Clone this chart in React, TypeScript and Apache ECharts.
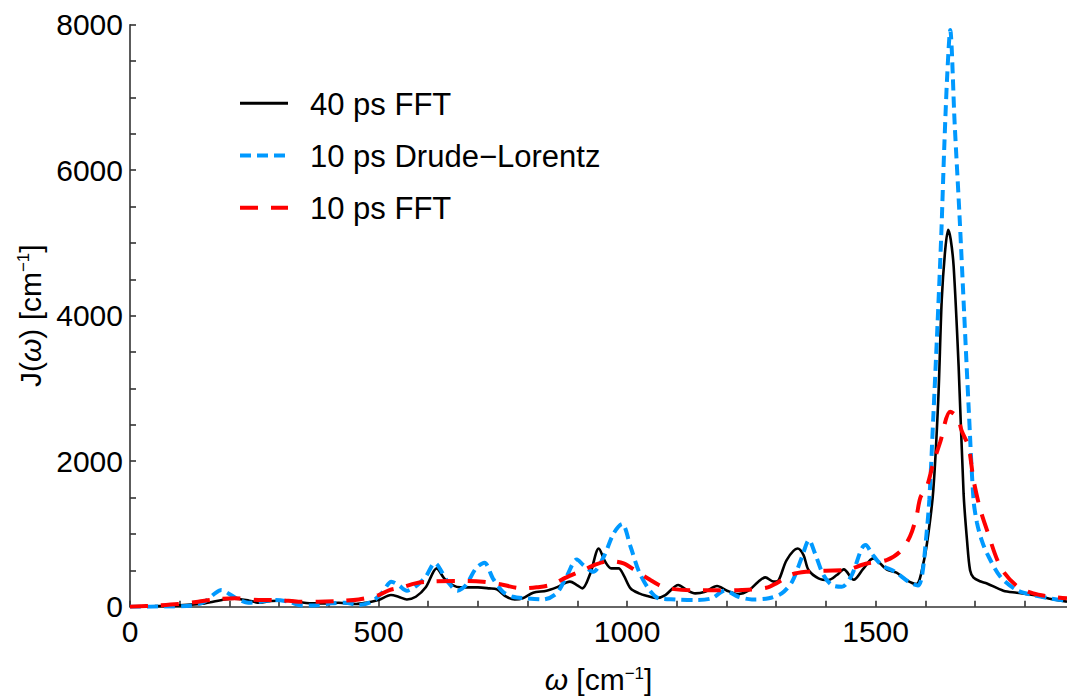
import React, { useEffect, useRef } from "react";
import * as echarts from "echarts";

const FONT = "'Liberation Sans', Arial, Helvetica, sans-serif";

const seriesNames = ["40 ps FFT", "10 ps Drude\u2212Lorentz", "10 ps FFT"];
const seriesColors = ["#000000", "#0099ff", "#ff0000"];
const seriesWidths = [2.6, 4, 4];
const seriesDashes: (number[] | null)[] = [null, [11, 6], [18, 13]];

const fft40X = [0, 50, 100, 150, 190, 210, 240, 260, 285, 315, 340, 370, 395, 420, 455, 475, 500, 525, 540, 557, 575, 595, 617, 632, 649, 665, 700, 723, 738, 757, 774, 790, 811, 838, 858, 885, 899, 910, 926, 943, 956, 968, 983, 993, 1007, 1024, 1041, 1060, 1077, 1103, 1120, 1137, 1157, 1181, 1201, 1224, 1244, 1264, 1278, 1295, 1305, 1321, 1343, 1355, 1365, 1385, 1405, 1422, 1436, 1456, 1475, 1495, 1522, 1542, 1562, 1582, 1596, 1606, 1616, 1626, 1633, 1640, 1646, 1651, 1657, 1667, 1677, 1684, 1690, 1697, 1710, 1724, 1757, 1784, 1817, 1850, 1885];
const fft40Y = [0, 8, 18, 46, 100, 110, 82, 55, 78, 85, 64, 46, 46, 55, 37, 55, 92, 160, 137, 100, 137, 266, 527, 390, 298, 266, 266, 252, 238, 137, 100, 115, 192, 220, 266, 344, 298, 252, 458, 800, 618, 527, 527, 435, 252, 183, 147, 120, 160, 298, 229, 183, 206, 284, 220, 174, 220, 344, 403, 344, 366, 641, 800, 710, 504, 390, 366, 435, 513, 370, 520, 664, 513, 467, 366, 311, 595, 1000, 1600, 2842, 4217, 4904, 5180, 5050, 4675, 3300, 1550, 900, 500, 400, 350, 320, 220, 192, 160, 110, 69];

const dlX = [0, 70, 124, 150, 171, 184, 198, 218, 238, 265, 292, 319, 346, 372, 406, 433, 460, 486, 506, 526, 540, 557, 578, 595, 613, 639, 659, 676, 696, 713, 730, 750, 770, 797, 831, 858, 878, 899, 912, 932, 953, 973, 990, 1007, 1024, 1045, 1064, 1097, 1137, 1170, 1197, 1224, 1251, 1285, 1311, 1332, 1352, 1366, 1378, 1395, 1412, 1432, 1452, 1472, 1480, 1492, 1512, 1539, 1566, 1585, 1593, 1601, 1608, 1616, 1624, 1632, 1638, 1644, 1650, 1659, 1669, 1678, 1687, 1697, 1704, 1714, 1724, 1751, 1784, 1817, 1850, 1885];
const dlY = [0, 2, 18, 69, 183, 229, 183, 100, 55, 73, 92, 69, 18, 18, 46, 55, 23, 69, 183, 343, 298, 220, 298, 412, 600, 344, 220, 298, 527, 605, 390, 206, 137, 115, 100, 183, 412, 650, 572, 481, 687, 1008, 1136, 824, 481, 229, 115, 100, 92, 115, 220, 137, 100, 115, 183, 344, 687, 916, 733, 435, 298, 275, 435, 800, 847, 733, 572, 481, 344, 290, 412, 900, 1467, 2600, 3800, 5100, 6300, 7300, 7928, 6640, 5345, 4050, 2760, 1467, 1150, 900, 733, 412, 229, 160, 115, 82];

const fft10X = [0, 57, 97, 137, 171, 211, 258, 298, 339, 379, 419, 460, 500, 522, 547, 574, 601, 655, 710, 743, 790, 818, 845, 878, 912, 939, 966, 993, 1020, 1047, 1064, 1080, 1130, 1180, 1230, 1280, 1300, 1330, 1360, 1400, 1440, 1480, 1522, 1549, 1569, 1582, 1590, 1603, 1615, 1630, 1650, 1665, 1673, 1687, 1697, 1710, 1724, 1751, 1784, 1817, 1850, 1885];
const fft10Y = [0, 18, 37, 69, 100, 115, 92, 92, 69, 69, 78, 100, 160, 229, 266, 321, 344, 353, 344, 311, 252, 266, 298, 403, 504, 586, 627, 595, 481, 366, 298, 255, 225, 225, 230, 260, 320, 440, 480, 495, 505, 590, 641, 756, 962, 1237, 1500, 1650, 1950, 2265, 2681, 2600, 2420, 2197, 1740, 1350, 1053, 550, 284, 183, 140, 115];

const xLabelStep = 500;
const yLabelStep = 2000;

const zip = (xs: number[], ys: number[]) => xs.map((x, i) => [x, ys[i]]);

export default function App() {
  const ref = useRef<HTMLDivElement>(null);
  useEffect(() => {
    if (!ref.current) return;
    const chart = echarts.init(ref.current, undefined, { renderer: "svg" });
    const axisLineStyle = { color: "#333", width: 1.6 };
    const rich = {
      n: { fontSize: 30, fontFamily: FONT, color: "#000" },
      i: { fontSize: 30, fontFamily: FONT, color: "#000", fontStyle: "italic" },
      s: { fontSize: 17, fontFamily: FONT, color: "#000", verticalAlign: "top" },
    };
    const legendTop = 103.3;
    const legendStep = 52.2;
    const legendGraphics: any[] = [];
    seriesNames.forEach((name, k) => {
      const y = legendTop + k * legendStep;
      legendGraphics.push({
        type: "line",
        shape: { x1: 240, y1: y, x2: 288, y2: y },
        style: {
          stroke: seriesColors[k],
          lineWidth: seriesWidths[k] + (k === 0 ? 0.4 : 0),
          lineDash: seriesDashes[k] || undefined,
        },
      });
      legendGraphics.push({
        type: "text",
        x: 310,
        y: y + 1,
        style: {
          text: name,
          fontSize: 31,
          fontFamily: FONT,
          fill: "#000",
          verticalAlign: "middle",
          align: "left",
        },
      });
    });
    chart.setOption({
      animation: false,
      backgroundColor: "#fff",
      grid: { left: 130, right: 0, top: 24.7, bottom: 89.3, outerBoundsMode: "none", containLabel: false },
      graphic: legendGraphics,
      xAxis: {
        type: "value",
        min: 0,
        max: 1885,
        interval: 100,
        name: "{i|\u03c9}{n| [cm}{s|\u22121}{n|]}",
        nameLocation: "middle",
        nameGap: 58,
        nameTextStyle: { rich },
        axisLine: { show: true, lineStyle: axisLineStyle },
        axisTick: { show: true, inside: true, length: 6, lineStyle: axisLineStyle },
        axisLabel: {
          fontSize: 30,
          fontFamily: FONT,
          color: "#000",
          margin: 10,
          showMaxLabel: false,
          formatter: (v: number) => (v % xLabelStep === 0 ? String(v) : ""),
        },
        splitLine: { show: false },
      },
      yAxis: {
        type: "value",
        min: 0,
        max: 8000,
        interval: 500,
        name: "{n|J(}{i|\u03c9}{n|) [cm}{s|\u22121}{n|]}",
        nameLocation: "middle",
        nameGap: 72,
        nameTextStyle: { rich },
        axisLine: { show: true, lineStyle: axisLineStyle },
        axisTick: { show: true, inside: true, length: 6, lineStyle: axisLineStyle },
        axisLabel: {
          fontSize: 30,
          fontFamily: FONT,
          color: "#000",
          margin: 7,
          formatter: (v: number) => (v % yLabelStep === 0 ? String(v) : ""),
        },
        splitLine: { show: false },
      },
      series: [
        { data: zip(fft40X, fft40Y) },
        { data: zip(dlX, dlY) },
        { data: zip(fft10X, fft10Y) },
      ].map((s, k) => ({
        name: seriesNames[k],
        type: "line",
        data: s.data,
        smooth: 0.3,
        symbol: "none",
        color: seriesColors[k],
        lineStyle: {
          color: seriesColors[k],
          width: seriesWidths[k],
          type: seriesDashes[k] || "solid",
        },
      })),
    });
    return () => chart.dispose();
  }, []);
  return (
    <div
      ref={ref}
      style={{ position: "fixed", left: 0, top: 0, width: 1067, height: 696, background: "#fff" }}
    />
  );
}
